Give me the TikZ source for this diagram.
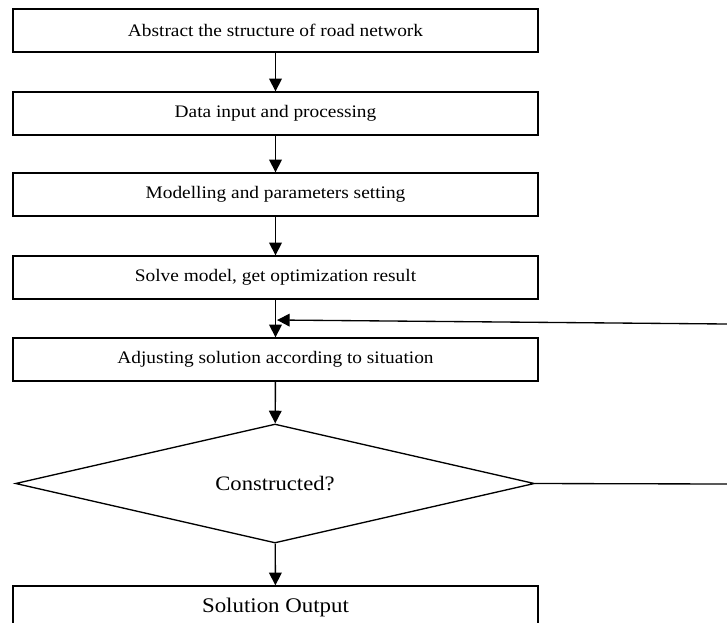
\documentclass[tikz,border=0pt]{standalone}
\usepackage{fontspec}
\setmainfont{Liberation Serif}
\usetikzlibrary{shapes.geometric,arrows.meta}
\newcommand{\wtext}[2]{\scalebox{1.1}[1]{\fontsize{#1}{#1}\selectfont #2}}
\tikzset{every picture/.style={line width=1pt}}

\begin{document}
\begin{tikzpicture}[x=0.75pt,y=0.75pt,yscale=-1,xscale=1,
  stepbox/.style={draw,minimum width=393.75pt,minimum height=32.25pt,inner sep=0pt},
  decide/.style={draw,diamond,aspect=4.36,minimum width=389.25pt,minimum height=89.25pt,inner sep=0pt},
  flow/.style={-{Triangle[length=9.5pt,width=9.5pt]}}]
\useasboundingbox (0,0) rectangle (727,622);

% Text Node
\node[stepbox] (abstract) at (275.5,30.5) {\wtext{13.2}{Abstract the structure of road network}};
% Text Node
\node[stepbox] (data) at (275.5,113.5) {\wtext{13.2}{Data input and processing}};
% Text Node
\node[stepbox] (model) at (275.5,194.5) {\wtext{13.2}{Modelling and parameters setting}};
% Text Node
\node[stepbox] (solve) at (275.5,277.5) {\wtext{13.2}{Solve model, get optimization result}};
% Text Node
\node[stepbox] (adjust) at (275.5,359.5) {\wtext{13.2}{Adjusting solution according to situation}};
% Decision Node
\node[decide] (constructed) at (275,483.5) {\wtext{15.4}{Constructed?}};
% Text Node
\node[stepbox] (output) at (275.5,607.5) {\wtext{15.6}{Solution Output}};

\coordinate (back) at (727,324);
\coordinate (merge) at (277,320);
\coordinate (exit) at (727,484);

\draw[flow] (abstract) -- (data);
\draw[flow] (data) -- (model);
\draw[flow] (model) -- (solve);
\draw[flow] (solve) -- (adjust);
\draw[flow] (back) -- (merge);
\draw[flow] (adjust) -- (constructed);
\draw[flow] (constructed) -- (output);
\draw (constructed.east) -- (exit);

\end{tikzpicture}
\end{document}
